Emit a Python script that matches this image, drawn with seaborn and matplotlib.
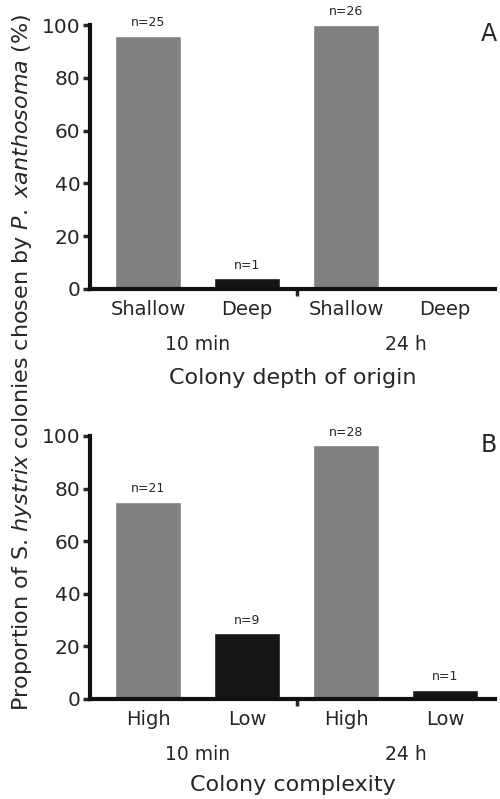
import matplotlib.pyplot as plt
import pandas as pd
import seaborn as sns

# panel A - colony depth of origin
depth_labels = ["Shallow", "Deep", "Shallow", "Deep"]
depth_pct = [96, 4, 100, 0]
depth_n = [25, 1, 26, None]

# panel B - colony complexity
complexity_labels = ["High", "Low", "High", "Low"]
complexity_pct = [75, 25, 96.5, 3.5]
complexity_n = [21, 9, 28, 1]

time_labels = ["10 min", "24 h"]
time_pos = [0.5, 2.6]
bar_colors = ["#808080", "#161616", "#808080", "#161616"]

sns.set_theme(style="ticks")
plt.rcParams["font.family"] = ["DejaVu Sans"]


def draw_panel(ax, labels, pct, counts, xlabel, tag, xlab_y):
    df = pd.DataFrame({"slot": [str(i) for i in range(len(pct))], "pct": pct})
    sns.barplot(data=df, x="slot", y="pct", hue="slot", palette=bar_colors,
                legend=False, width=0.67, saturation=1, ax=ax)

    for i, (v, c) in enumerate(zip(pct, counts)):
        if c:
            ax.text(i, v + 2.5, f"n={c}", ha="center", va="bottom", fontsize=9)

    ax.set_ylim(0, 100)
    ax.set_xlim(-0.586, 3.505)
    ax.set_yticks([0, 20, 40, 60, 80, 100])
    ax.set_xticks(range(len(labels)))
    ax.set_xticklabels(labels)
    ax.set_xticks([1.5], minor=True)
    ax.tick_params(axis="y", labelsize=14.5, length=5, width=2.5, pad=2)
    ax.tick_params(axis="x", which="major", labelsize=14, length=0, pad=8)
    ax.tick_params(axis="x", which="minor", length=5, width=2.5)
    for s in ["left", "bottom"]:
        ax.spines[s].set_linewidth(3)
        ax.spines[s].set_color("#111111")
    sns.despine(ax=ax)

    for lbl, p in zip(time_labels, time_pos):
        ax.annotate(lbl, xy=(p, 0), xycoords=("data", "axes fraction"),
                    xytext=(0, -40), textcoords="offset points",
                    ha="center", va="center", fontsize=13.5)

    ax.set_xlabel(xlabel, fontsize=16, va="center")
    ax.xaxis.set_label_coords(0.5, xlab_y)
    ax.set_ylabel("")
    ax.text(0.985, 0.965, tag, transform=ax.transAxes, ha="center", va="center", fontsize=17)


fig = plt.figure(figsize=(5, 7.99), dpi=100)
ax_a = fig.add_axes([0.18, 0.6383, 0.81, 0.3304])
ax_b = fig.add_axes([0.18, 0.1252, 0.81, 0.3292])

draw_panel(ax_a, depth_labels, depth_pct, depth_n, "Colony depth of origin", "A", -0.337)
draw_panel(ax_b, complexity_labels, complexity_pct, complexity_n, "Colony complexity", "B", -0.327)

fig.text(0.044, 0.547,
         r"Proportion of S. $\mathit{hystrix}$ colonies chosen by $\mathit{P.}$ $\mathit{xanthosoma}$ (%)",
         rotation=90, ha="center", va="center", fontsize=16)

fig.savefig("out.png", dpi=100)
